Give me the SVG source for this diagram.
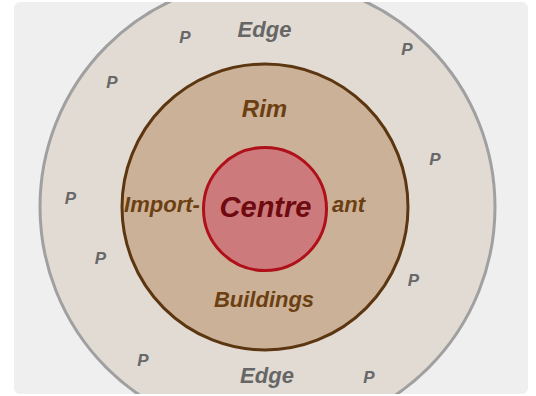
<svg xmlns="http://www.w3.org/2000/svg" width="536" height="396" viewBox="0 0 536 396">
<style>
text{font-family:"Liberation Sans",Arial,sans-serif;font-style:italic;font-weight:bold;text-anchor:middle}
.edge{fill:#666666;font-size:22px}
.p{fill:#686868;font-size:17px}
.rim{fill:#6b3f12;font-size:22px}
.centre{fill:#6e0a10;font-size:29px}
</style>
<defs>
<clipPath id="frame"><rect x="14" y="2" width="514" height="392" rx="6"/></clipPath>
</defs>
<rect x="14" y="2" width="514" height="392" rx="6" fill="#efefef"/>
<g clip-path="url(#frame)">
<g id="edge-zone">
<circle cx="267.5" cy="207" r="227.5" fill="#e2dbd4" stroke="#a0a0a0" stroke-width="3"/>
<text class="edge" x="264.5" y="37">Edge</text>
<text class="edge" x="267" y="383">Edge</text>
<text class="p" x="185" y="43">P</text>
<text class="p" x="407" y="55">P</text>
<text class="p" x="112" y="88">P</text>
<text class="p" x="435" y="165">P</text>
<text class="p" x="70.5" y="204">P</text>
<text class="p" x="100.5" y="264">P</text>
<text class="p" x="413.5" y="286">P</text>
<text class="p" x="143" y="366">P</text>
<text class="p" x="369" y="383">P</text>
</g>
<g id="rim-zone">
<circle cx="265" cy="207" r="143" fill="#cbb197" stroke="#5c3610" stroke-width="3"/>
<text class="rim" x="264.5" y="117" style="font-size:24px">Rim</text>
<text class="rim" x="162" y="212">Import-</text>
<text class="rim" x="348.5" y="212">ant</text>
<text class="rim" x="264" y="307">Buildings</text>
</g>
<g id="centre">
<circle cx="265" cy="209" r="61.5" fill="#cc7a7b" stroke="#b0101a" stroke-width="3"/>
<text class="centre" x="265.5" y="217">Centre</text>
</g>
</g>
<g id="connectors"/>
</svg>
